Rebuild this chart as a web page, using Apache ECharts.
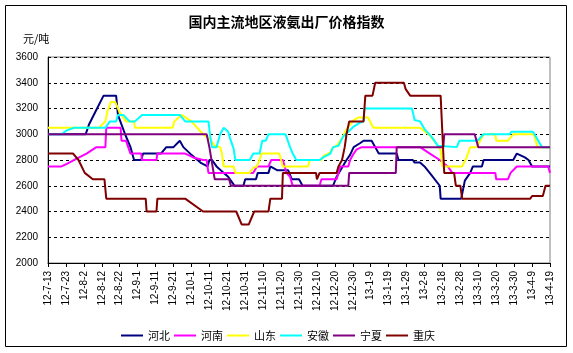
<!DOCTYPE html>
<html>
<head>
<meta charset="utf-8">
<script src="https://cdn.jsdelivr.net/npm/echarts@6/dist/echarts.min.js"></script>
<style>
  html, body { margin: 0; padding: 0; background: #fff; }
  #main { width: 573px; height: 353px; }
</style>
</head>
<body>
<div id="main"></div>
<script>
// x = days since 2012-07-13, tick every 10 days
var tickLabels = ['12-7-13', '12-7-23', '12-8-2', '12-8-12', '12-8-22', '12-9-1', '12-9-11',
  '12-9-21', '12-10-1', '12-10-11', '12-10-21', '12-10-31', '12-11-10', '12-11-20', '12-11-30',
  '12-12-10', '12-12-20', '12-12-30', '13-1-9', '13-1-19', '13-1-29', '13-2-8', '13-2-18',
  '13-2-28', '13-3-10', '13-3-20', '13-3-30', '13-4-9', '13-4-19'];

var names = ['河北', '河南', '山东', '安徽', '宁夏', '重庆'];
var colors = ['#000080', '#ff00ff', '#ffff00', '#00ffff', '#800080', '#800000'];

var hebei = [[0,3000],[21,3000],[23,3080],[27,3190],[31,3300],[38,3300],[39,3150],[43,3000],
  [46,2900],[48,2800],[52,2800],[53,2850],[63,2850],[66,2900],[70,2900],[73.5,2950],[75.5,2900],
  [80,2840],[85,2780],[89,2750],[90,2800],[91.5,2800],[94,2750],[98,2700],[100.5,2670],
  [103,2620],[104,2600],[109,2600],[110,2650],[116,2650],[117,2700],[123,2700],[124,2750],
  [128,2720],[134,2720],[136,2650],[140,2650],[142,2600],[159,2600],[161,2670],[166.5,2800],
  [168.5,2840],[170.5,2900],[174,2930],[176,2950],[180.5,2950],[182.5,2900],[184.5,2850],
  [194.5,2850],[195.5,2800],[203.5,2800],[204.5,2780],[207.5,2780],[210,2750],[214,2680],
  [218.5,2600],[219,2500],[230.5,2500],[232.5,2640],[235.5,2700],[237,2750],[242,2750],
  [243,2800],[259.5,2800],[261.5,2850],[266,2820],[268,2800],[270,2750],[280,2750]];

var henan = [[0,2750],[7.5,2750],[10.5,2770],[16,2810],[21.5,2850],[27,2900],[32,2900],
  [32.5,3050],[40.5,3050],[41,2950],[43.5,2950],[46,2850],[52,2850],[52.5,2800],[60.5,2800],
  [61,2850],[76.5,2850],[81,2820],[86.5,2800],[88.5,2800],[89.5,2700],[114.5,2700],
  [116.5,2750],[123,2750],[124.5,2800],[131,2800],[133,2700],[135,2670],[136.5,2600],
  [151.5,2600],[152.5,2650],[161,2650],[162,2700],[163,2750],[167.5,2750],[168.5,2800],
  [170.5,2850],[172,2880],[175,2900],[207.5,2900],[213,2850],[218.5,2800],[223,2750],
  [225.5,2700],[249.5,2700],[250,2650],[256.5,2650],[258,2700],[261.5,2750],[279,2750],
  [280,2700]];

var shandong = [[0,3050],[28.5,3050],[32,3100],[33,3170],[35,3250],[37.5,3250],[40,3170],
  [43.5,3100],[48,3100],[48.5,3050],[69.5,3050],[70.5,3100],[74.5,3150],[75.5,3150],[80,3100],
  [86.5,3000],[90.5,2960],[93,2910],[96,2900],[97,2850],[98,2750],[103.5,2750],[104.5,2700],
  [112.5,2700],[114.5,2740],[116.5,2750],[118,2800],[119,2850],[129,2850],[130,2800],
  [131,2750],[145,2750],[146,2800],[152.5,2800],[153.5,2830],[157.5,2860],[159,2900],
  [161,2910],[164,2970],[166.5,3040],[170.5,3110],[173,3130],[178.5,3130],[179.5,3120],
  [181.5,3050],[207.5,3050],[213,2990],[217.5,2910],[219,2880],[220,2750],[231,2750],
  [233.5,2820],[235.5,2900],[239,2900],[241,2950],[243,3000],[249.5,3000],[250,2950],
  [256.5,2950],[259.5,3000],[271,3000],[273,2900],[280,2900]];

var anhui = [[0,3000],[7.5,3000],[10.5,3030],[14.5,3050],[32,3050],[34.5,3100],[38,3100],
  [39,3150],[42,3150],[44,3120],[45.5,3100],[48.5,3100],[52.5,3150],[73.5,3150],[76.5,3100],
  [89.5,3100],[90.5,2980],[91.5,2900],[94,2900],[96,3000],[98,3050],[98.5,3050],[100.5,3020],
  [101.5,2970],[103.5,2890],[104.5,2800],[112.5,2800],[114.5,2850],[118,2850],[119.5,2950],
  [121.5,2950],[123,3000],[132.5,3000],[135,2900],[136.5,2850],[138.5,2800],[151.5,2800],
  [153.5,2820],[157.5,2850],[159,2900],[162,2910],[164.5,2980],[167.5,3020],[170.5,3060],
  [174,3090],[176,3100],[176.5,3200],[203,3200],[204.5,3110],[207.5,3100],[210,3040],
  [214,2980],[217.5,2910],[218.5,2900],[228,2900],[229.5,2950],[239.5,2950],[243,3000],
  [257.5,3000],[258.5,3020],[270.5,3020],[275.5,2900],[280,2900]];

var ningxia = [[0,3000],[88.5,3000],[90,2900],[93,2650],[101,2650],[102,2600],[167.5,2600],
  [168,2700],[194,2700],[194.5,2900],[220.5,2900],[221,3000],[238,3000],[240,2900],[280,2900]];

var chongqing = [[0,2850],[14,2850],[17,2800],[20.5,2700],[25,2650],[31.5,2650],[32.5,2500],
  [54.5,2500],[55,2400],[60.5,2400],[61,2500],[76.5,2500],[86.5,2400],[105,2400],[108,2300],
  [112,2300],[115,2400],[123,2400],[124,2500],[130.5,2500],[131,2700],[149.5,2700],[150,2650],
  [151.5,2700],[161,2700],[162,2750],[164,2800],[165.5,2900],[166.5,3000],[168,3100],[176,3100],
  [177,3300],[181,3300],[182.5,3400],[198.5,3400],[199.5,3350],[202,3300],[219,3300],[221,2700],
  [226.5,2700],[227.5,2600],[230,2600],[231,2500],[269,2500],[270,2520],[276,2520],[277.5,2600],
  [280,2600]];

var seriesData = [hebei, henan, shandong, anhui, ningxia, chongqing];

var chartDom = document.getElementById('main');
var myChart = echarts.init(chartDom, null, { renderer: 'canvas' });
var option;

option = {
  backgroundColor: '#fff',
  animation: false,
  textStyle: { fontFamily: 'Arial, "Liberation Sans", "Noto Sans CJK SC", sans-serif' },
  title: [
    {
      text: '国内主流地区液氨出厂价格指数',
      left: 'center',
      top: 10,
      textStyle: { fontSize: 14, fontWeight: 'bold', color: '#000', fontFamily: '"Noto Sans CJK SC", sans-serif' }
    },
    {
      text: '元/吨',
      left: 18,
      top: 28,
      textStyle: { fontSize: 11, fontWeight: 'normal', color: '#000', fontFamily: '"Noto Sans CJK SC", sans-serif' }
    }
  ],
  graphic: [
    {
      type: 'rect',
      shape: { x: 5.5, y: 5.5, width: 561, height: 341 },
      style: { fill: 'none', stroke: '#000', lineWidth: 1 },
      silent: true
    }
  ],
  legend: {
    left: 116,
    top: 325,
    icon: 'rect',
    itemWidth: 22,
    itemHeight: 2,
    itemGap: 4,
    textStyle: { fontSize: 11, color: '#000', fontFamily: '"Noto Sans CJK SC", sans-serif' },
    data: names
  },
  grid: {
    left: 48,
    right: 23,
    top: 57,
    bottom: 90,
    show: true,
    borderColor: '#808080',
    borderWidth: 1
  },
  xAxis: {
    type: 'value',
    min: 0,
    max: 280,
    interval: 10,
    axisLine: { show: true, onZero: false, lineStyle: { color: '#000', width: 1 } },
    axisTick: { show: true, length: 4, lineStyle: { color: '#000' } },
    splitLine: { show: false },
    axisLabel: {
      rotate: 90,
      fontSize: 10,
      color: '#000',
      margin: 8,
      showMinLabel: true,
      showMaxLabel: true,
      formatter: function (v) { return tickLabels[Math.round(v / 10)]; }
    }
  },
  yAxis: {
    type: 'value',
    min: 2000,
    max: 3600,
    interval: 200,
    axisLine: { show: true, lineStyle: { color: '#000', width: 1 } },
    axisTick: { show: false },
    axisLabel: { fontSize: 10, color: '#000', margin: 10, formatter: function (v) { return String(v); } },
    splitLine: { show: true, lineStyle: { color: '#000', type: [3, 3], width: 1 } }
  },
  series: names.map(function (n, i) {
    return {
      name: n,
      type: 'line',
      data: seriesData[i],
      symbol: 'none',
      color: colors[i],
      lineStyle: { color: colors[i], width: 2 }
    };
  })
};

option && myChart.setOption(option);
</script>
</body>
</html>
